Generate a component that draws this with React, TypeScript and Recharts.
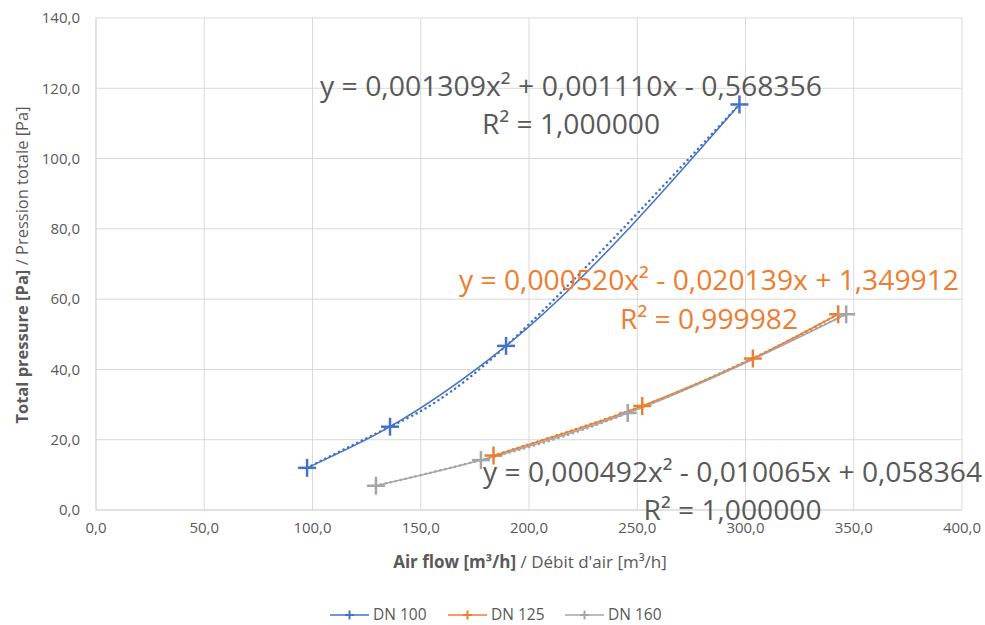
import { LineChart, Line, XAxis, YAxis, CartesianGrid } from "recharts";

// Air flow [m³/h] and total pressure [Pa]
const dn100Flow = [97.5, 135.8, 189.4, 297.2];
const dn100Pressure = [12.0, 23.7, 46.7, 115.4];
const dn125Flow = [183.6, 252.3, 303.4, 342.8];
const dn125Pressure = [15.5, 29.6, 43.1, 55.7];
const dn160Flow = [129.3, 177.8, 245.6, 346.5];
const dn160Pressure = [6.9, 14.2, 27.6, 55.7];

const xTicks = [0, 50, 100, 150, 200, 250, 300, 350, 400];
const yTicks = [0, 20, 40, 60, 80, 100, 120, 140];

const seriesNames = ["DN 100", "DN 125", "DN 160"];
const equations = [
  "y = 0,001309x² + 0,001110x - 0,568356",
  "y = 0,000520x² - 0,020139x + 1,349912",
  "y = 0,000492x² - 0,010065x + 0,058364",
];
const rSquared = ["R² = 1,000000", "R² = 0,999982", "R² = 1,000000"];

const COLORS = ["#4472C4", "#ED7D31", "#A5A5A5"];
const TEXT = "#595959";
const GRID = "#d9d9d9";
const FONT = "'Open Sans', sans-serif";

const toPoints = (xs: number[], ys: number[]) => xs.map((x, i) => ({ x, y: ys[i] }));

const series = [
  toPoints(dn100Flow, dn100Pressure),
  toPoints(dn125Flow, dn125Pressure),
  toPoints(dn160Flow, dn160Pressure),
];

const fmt = (v: number) => v.toFixed(1).replace(".", ",");

function plusDot(color: string, half = 9) {
  return (props: any) => {
    const { cx, cy, index } = props;
    if (cx == null || cy == null) return <g key={index} />;
    return (
      <g key={index} stroke={color} strokeWidth={2.5}>
        <line x1={cx - half} y1={cy} x2={cx + half} y2={cy} />
        <line x1={cx} y1={cy - half} x2={cx} y2={cy + half} />
      </g>
    );
  };
}

// equation labels: [x start, width, baseline eq, baseline R², color]
const eqLayout: [number, number, number, number, string][] = [
  [320, 502, 96, 134, TEXT],
  [459, 500, 290, 329, COLORS[1]],
  [483, 499, 482, 520, TEXT],
];
const r2Width = 178;

const legendX = [330, 448, 565];

export default function App() {
  return (
    <div style={{ position: "absolute", left: 0, top: 0, width: 985, height: 625, background: "#fff" }}>
      <LineChart
        width={985}
        height={625}
        margin={{ top: 18, right: 23, left: 36, bottom: 85 }}
      >
        <CartesianGrid stroke={GRID} strokeWidth={1} />
        <XAxis
          type="number"
          dataKey="x"
          domain={[0, 400]}
          ticks={xTicks}
          tickFormatter={fmt}
          allowDuplicatedCategory={false}
          axisLine={{ stroke: GRID }}
          tickLine={false}
          tickSize={0}
          tickMargin={12}
          height={30}
          tick={{ fontSize: 15, fill: TEXT, fontFamily: FONT }}
        />
        <YAxis
          type="number"
          dataKey="y"
          domain={[0, 140]}
          ticks={yTicks}
          tickFormatter={fmt}
          axisLine={{ stroke: GRID }}
          tickLine={false}
          tickSize={0}
          tickMargin={16}
          width={60}
          tick={{ fontSize: 15, fill: TEXT, fontFamily: FONT }}
        />
        {series.map((pts, i) => (
          <Line
            key={"trend" + i}
            data={pts}
            dataKey="y"
            type="natural"
            stroke={COLORS[i]}
            strokeWidth={2.5}
            strokeDasharray="0.1 5"
            strokeLinecap="round"
            dot={false}
            activeDot={false}
            legendType="none"
            isAnimationActive={false}
          />
        ))}
        {series.map((pts, i) => (
          <Line
            key={"s" + i}
            name={seriesNames[i]}
            data={pts}
            dataKey="y"
            type="monotone"
            stroke={COLORS[i]}
            strokeWidth={1.5}
            dot={plusDot(COLORS[i])}
            activeDot={false}
            isAnimationActive={false}
          />
        ))}
      </LineChart>
      <svg
        width={985}
        height={625}
        style={{ position: "absolute", left: 0, top: 0, pointerEvents: "none" }}
        fontFamily={FONT}
      >
        {eqLayout.map(([x, w, b1, b2, color], i) => (
          <g key={i} fill={color} fontSize={28}>
            <text x={x} y={b1} textLength={w} lengthAdjust="spacingAndGlyphs">
              {equations[i]}
            </text>
            <text
              x={x + w / 2 - r2Width / 2}
              y={b2}
              textLength={r2Width}
              lengthAdjust="spacingAndGlyphs"
            >
              {rSquared[i]}
            </text>
          </g>
        ))}
        <text
          transform="translate(28,265) rotate(-90)"
          textAnchor="middle"
          fontSize={16.5}
          fill={TEXT}
        >
          <tspan fontWeight="bold">Total pressure [Pa]</tspan>
          <tspan> / Pression totale [Pa]</tspan>
        </text>
        <text x={530} y={568} textAnchor="middle" fontSize={17} fill={TEXT}>
          <tspan fontWeight="bold">Air flow [m³/h]</tspan>
          <tspan> / Débit d'air [m³/h]</tspan>
        </text>
        {seriesNames.map((name, i) => {
          const x0 = legendX[i];
          const cy = 615;
          return (
            <g key={name}>
              <line x1={x0} y1={cy} x2={x0 + 39} y2={cy} stroke={COLORS[i]} strokeWidth={1.5} />
              <g stroke={COLORS[i]} strokeWidth={2}>
                <line x1={x0 + 15} y1={cy} x2={x0 + 24} y2={cy} />
                <line x1={x0 + 19.5} y1={cy - 4.5} x2={x0 + 19.5} y2={cy + 4.5} />
              </g>
              <text x={x0 + 43} y={cy + 5} fontSize={15.5} fill={TEXT}>
                {name}
              </text>
            </g>
          );
        })}
      </svg>
    </div>
  );
}
